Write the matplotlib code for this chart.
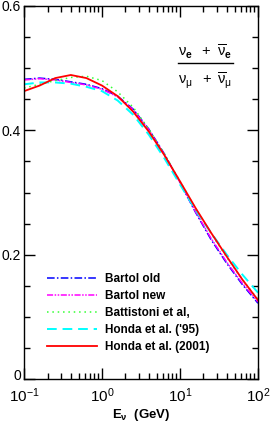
import numpy as np
import matplotlib
matplotlib.use("Agg")
import matplotlib.pyplot as plt
import matplotlib.transforms as mtrans
from matplotlib.ticker import FixedLocator, NullFormatter, FuncFormatter

plt.rcParams['font.family'] = ['Liberation Sans', 'DejaVu Sans']
plt.rcParams['mathtext.fontset'] = 'custom'
plt.rcParams['mathtext.rm'] = 'Liberation Sans'
plt.rcParams['mathtext.it'] = 'Liberation Sans'
plt.rcParams['mathtext.bf'] = 'Liberation Sans:bold'

# log10(E / GeV) grid
logE = [-1.0, -0.8, -0.6, -0.4, -0.2, 0.0, 0.2, 0.4, 0.6, 0.8, 1.0, 1.2, 1.4, 1.6, 1.8, 2.0]

bartol_old = [0.482, 0.484, 0.482, 0.478, 0.474, 0.467, 0.455, 0.434, 0.402, 0.362, 0.316, 0.268, 0.224, 0.186, 0.152, 0.122]
bartol_new = [0.481, 0.483, 0.481, 0.477, 0.473, 0.466, 0.454, 0.433, 0.401, 0.361, 0.316, 0.269, 0.226, 0.188, 0.154, 0.124]
battistoni = [0.468, 0.474, 0.480, 0.485, 0.487, 0.480, 0.462, 0.437, 0.402, 0.362, 0.318, 0.274, 0.234, 0.196, 0.160, 0.128]
honda_95   = [0.474, 0.477, 0.477, 0.475, 0.470, 0.463, 0.448, 0.425, 0.393, 0.355, 0.313, 0.272, 0.235, 0.200, 0.168, 0.139]
honda_2001 = [0.463, 0.472, 0.484, 0.489, 0.484, 0.472, 0.455, 0.430, 0.398, 0.360, 0.318, 0.275, 0.235, 0.197, 0.160, 0.127]

labels = ['Bartol old', 'Bartol new', 'Battistoni et al,', "Honda et al. ('95)", 'Honda et al. (2001)']

E = 10.0 ** np.array(logE)

fig = plt.figure(figsize=(2.73, 4.25), dpi=100)
ax = fig.add_axes([0.088, 0.108, 0.857, 0.878])

lw = 1.1
ax.plot(E, bartol_old, color='#0000ff', lw=lw, dashes=[5, 1.5, 1, 1.5], label=labels[0])
ax.plot(E, bartol_new, color='#ff00ff', lw=lw, dashes=[4, 1, 1, 1, 1, 1], label=labels[1])
ax.plot(E, battistoni, color='#33ff33', lw=lw, dashes=[1, 2.5], label=labels[2])
ax.plot(E, honda_95, color='#00ffff', lw=1.4, dashes=[5, 3], label=labels[3])
ax.plot(E, honda_2001, color='#ff0000', lw=1.3, label=labels[4])

ax.set_xscale('log')
ax.set_xlim(0.1, 100)
ax.set_ylim(0, 0.6)

ax.xaxis.set_major_locator(FixedLocator([0.1, 1, 10, 100]))
ax.xaxis.set_minor_locator(FixedLocator([m * d for d in [0.1, 1, 10] for m in range(2, 10)]))
ax.xaxis.set_minor_formatter(NullFormatter())
ax.xaxis.set_major_formatter(FuncFormatter(lambda v, p: r'$\mathregular{10^{%d}}$' % int(round(np.log10(v)))))
ax.yaxis.set_major_locator(FixedLocator([0, 0.2, 0.4, 0.6]))
ax.yaxis.set_minor_locator(FixedLocator(np.arange(0, 0.601, 0.05)))
ax.yaxis.set_major_formatter(FuncFormatter(lambda v, p: '0' if v == 0 else ('%.1f' % v)))

ax.tick_params(which='both', direction='in', top=True, right=True, width=1.0)
ax.tick_params(which='major', length=8)
ax.tick_params(which='minor', length=4)
ax.tick_params(axis='x', which='major', pad=5.5, labelsize=11)
ax.tick_params(axis='y', which='major', pad=2, labelsize=10)
for s in ax.spines.values():
    s.set_linewidth(1.0)

ax.set_xlabel(r'$\mathbf{E_{\nu}}$  (GeV)', fontsize=9.5, fontweight='bold', labelpad=1.5)

# raise the "0" label slightly, as in the original
fig.canvas.draw()
zero_lbl = ax.yaxis.get_majorticklabels()[0]
zero_lbl.set_transform(zero_lbl.get_transform() + mtrans.ScaledTranslation(0, 3 / 72, fig.dpi_scale_trans))

# fraction annotation
ax.text(0.775, 0.853, r'$\nu_\mathbf{e}\ \ +\ \overline{\nu}_\mathbf{e}$', transform=ax.transAxes,
        ha='center', va='bottom', fontsize=10.5)
ax.plot([0.658, 0.893], [0.847, 0.847], transform=ax.transAxes, color='black', lw=1.0)
ax.text(0.775, 0.828, r'$\nu_\mu\ \ +\ \overline{\nu}_\mu$', transform=ax.transAxes,
        ha='center', va='top', fontsize=10.5)

leg = ax.legend(loc='lower left', bbox_to_anchor=(0.08, 0.057), frameon=False,
                prop={'weight': 'bold', 'size': 8.5}, handlelength=4.2,
                handletextpad=0.7, labelspacing=0.42, borderaxespad=0)

fig.savefig('out.png', dpi=100)
